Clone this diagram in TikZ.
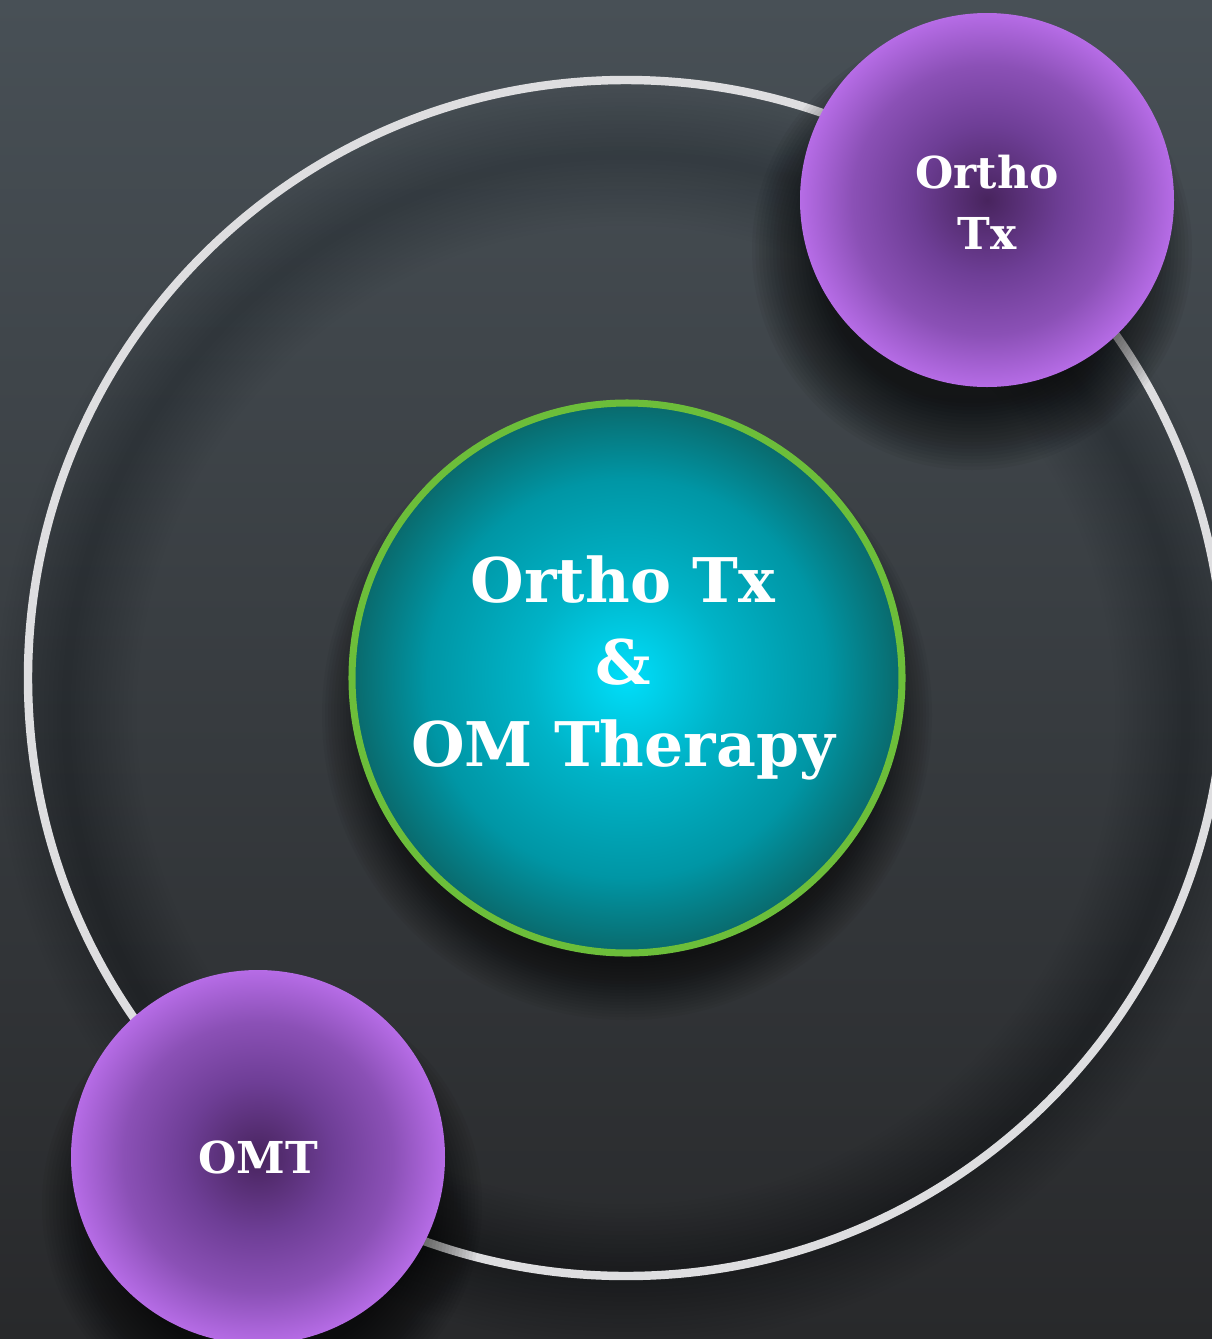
\documentclass[tikz,border=0pt]{standalone}
\usepackage{fontspec}
\newfontfamily\slabfont{DejaVu Serif}[BoldFont={DejaVu Serif Bold}]
\definecolor{bgtop}{RGB}{72,80,86}
\definecolor{bgbot}{RGB}{40,41,43}
\definecolor{ringc}{RGB}{222,222,224}
\definecolor{greenc}{RGB}{108,190,58}
\definecolor{tealin}{RGB}{0,222,250}
\definecolor{tealmid}{RGB}{0,150,165}
\definecolor{tealout}{RGB}{10,104,106}
\definecolor{purin}{RGB}{72,36,94}
\definecolor{purmid}{RGB}{110,62,150}
\definecolor{purout}{RGB}{182,108,230}
\pgfdeclareradialshading{tealshade}{\pgfpoint{0bp}{0bp}}{color(0bp)=(tealin); color(9bp)=(tealmid!60!tealin); color(18bp)=(tealmid); color(25bp)=(tealout); color(50bp)=(tealout)}
\pgfdeclareradialshading{purshade}{\pgfpoint{0bp}{0bp}}{color(0bp)=(purin); color(10bp)=(purmid); color(18bp)=(purmid!60!purout); color(25bp)=(purout); color(50bp)=(purout)}
\tikzset{
  bigtext/.style={font=\slabfont\bfseries\fontsize{17.5}{23.3}\selectfont, text=white, align=center},
  smalltext/.style={font=\slabfont\bfseries\fontsize{12.5}{17.4}\selectfont, text=white, align=center},
}
\begin{document}
\begin{tikzpicture}[x=0.01cm,y=-0.01cm]
\useasboundingbox (0,0) rectangle (1212,1339);
% background
\shade[top color=bgtop, bottom color=bgbot] (0,0) rectangle (1212,1339);
% soft shadow inside the ring
\foreach \i in {1,...,16}{
  \draw[black, opacity=0.012, line width=\i*2.5pt] (626,715) circle[radius=560];
}
% big ring
\draw[ringc, line width=2.4pt] (626,678) circle[radius=598];
% shadows
\foreach \i in {1,...,20}{
  \fill[black, opacity=0.04] (627,715) circle[radius=245+\i*3];
  \fill[black, opacity=0.045] (972,250) circle[radius=150+\i*3.5];
  \fill[black, opacity=0.045] (262,1205) circle[radius=150+\i*3.5];
}
% center circle
\shade[shading=tealshade] (627,678) circle[radius=277];
\draw[greenc, line width=2pt] (627,678) circle[radius=275];
% purple circles
\shade[shading=purshade] (987,200) circle[radius=187];
\shade[shading=purshade] (258,1157) circle[radius=187];
% nodes
\node[bigtext] (center) at (623,668) {Ortho Tx\\\&\\OM Therapy};
\node[smalltext] (ortho) at (987,202) {Ortho\\Tx};
\node[smalltext] (omt) at (258,1157) {OMT};
\end{tikzpicture}
\end{document}
